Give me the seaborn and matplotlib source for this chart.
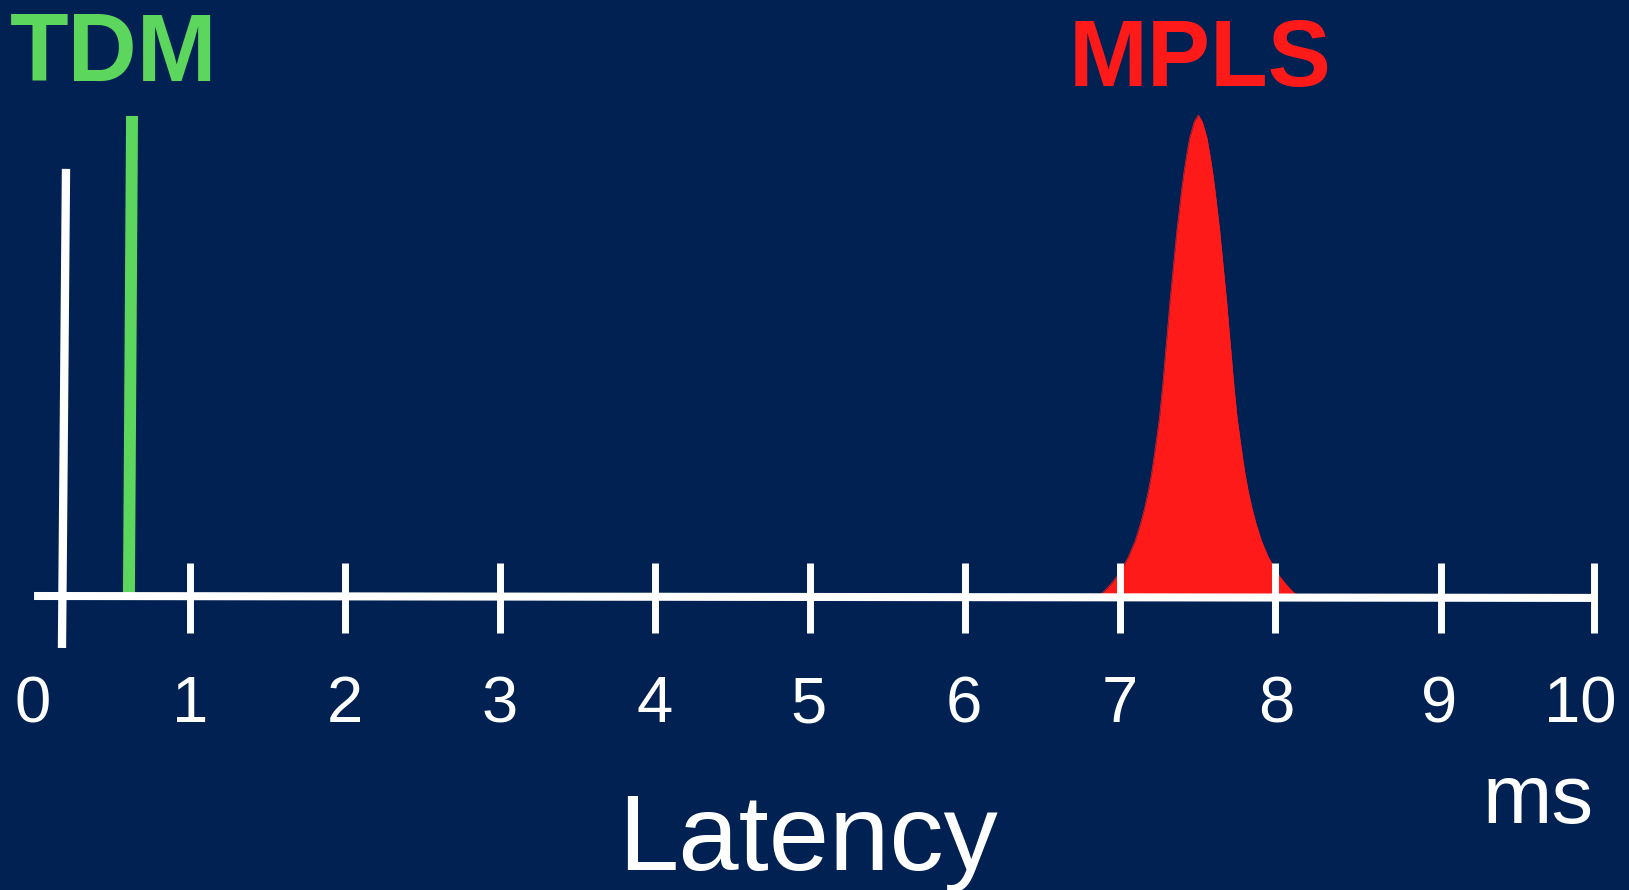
import matplotlib
matplotlib.use("Agg")
import matplotlib.pyplot as plt
import seaborn as sns
import pandas as pd

# ---------------- data ----------------
tick_labels = ["0", "1", "2", "3", "4", "5", "6", "7", "8", "9", "10"]

# MPLS latency distribution (ms, relative height)
mpls_x = [6.860, 6.895, 6.944, 6.994, 7.055, 7.099, 7.133, 7.161, 7.184, 7.204,
          7.220, 7.235, 7.255, 7.277, 7.295, 7.305, 7.323, 7.344, 7.366, 7.386,
          7.399, 7.413, 7.430, 7.449, 7.479, 7.505,
          7.531, 7.561, 7.580, 7.597, 7.611, 7.624, 7.644, 7.666, 7.687, 7.705,
          7.715, 7.733, 7.755, 7.775, 7.790, 7.806, 7.826, 7.849, 7.877, 7.911,
          7.955, 8.016, 8.066, 8.115, 8.150]
mpls_y = [0.0, 0.009, 0.026, 0.047, 0.082, 0.116, 0.151, 0.186, 0.220, 0.255,
          0.290, 0.324, 0.372, 0.443, 0.511, 0.547, 0.615, 0.684, 0.757, 0.813,
          0.848, 0.882, 0.917, 0.952, 0.986, 1.0,
          0.986, 0.952, 0.917, 0.882, 0.848, 0.813, 0.757, 0.684, 0.615, 0.547,
          0.511, 0.443, 0.372, 0.324, 0.290, 0.255, 0.220, 0.186, 0.151, 0.116,
          0.082, 0.047, 0.026, 0.009, 0.0]

# TDM latency (a single fixed value, ms) and its height
tdm_x = [0.606, 0.626]
tdm_y = [0.0, 0.998]

# ---------------- style ----------------
BG = "#002152"
RED = "#FF1A1A"
GREEN = "#5CD65C"
WHITE = "#FFFFFF"

sns.set_theme(style="dark", rc={"axes.facecolor": BG, "figure.facecolor": BG})
plt.rcParams["font.family"] = ["Liberation Sans", "DejaVu Sans"]

W, H = 1629, 890
fig = plt.figure(figsize=(W / 100, H / 100), dpi=100)
fig.patch.set_facecolor(BG)
ax = fig.add_axes([0, 0, 1, 1])
ax.set_facecolor(BG)
ax.axis("off")

# pixel mapping: x_px = 35 + 155*ms ; baseline y_px = 596, 481 px per unit
ax.set_xlim(-35 / 155, (W - 35) / 155)
ax.set_ylim((596 - H) / 481, 596 / 481)

df = pd.DataFrame({"latency": mpls_x, "density": mpls_y})
ax.fill_between(df["latency"], 0, df["density"], color=RED, lw=0, zorder=2)
sns.lineplot(data=df, x="latency", y="density", color=RED, lw=0.5,
             ax=ax, zorder=2, sort=False, estimator=None)

# TDM spike
ax.plot(tdm_x, tdm_y, color=GREEN, lw=8.6, solid_capstyle="butt", zorder=3)

# vertical white axis
ax.plot([0.174, 0.200], [-0.108, 0.888], color=WHITE, lw=6,
        solid_capstyle="butt", zorder=4)

# horizontal axis line
tick_pos = [1, 2, 3, 4, 5, 6, 7, 8, 9.07, 10.06]
ax.plot([-0.006, tick_pos[-1]], [0.0, -0.004], color=WHITE, lw=5.8,
        solid_capstyle="butt", zorder=4)
for p in tick_pos:
    ax.plot([p, p], [-0.077, 0.069], color=WHITE, lw=5.0,
            solid_capstyle="butt", zorder=4)

# tick labels
label_pos = [-0.013, 1.0, 2.0, 3.0, 4.0, 4.99, 5.99, 7.0, 8.01, 9.06, 9.97]
for p, t in zip(label_pos, tick_labels):
    ax.text(p, -0.262, t, color=WHITE, fontsize=47, ha="center",
            va="baseline", zorder=5)

# titles / labels
def fx(px):
    return px / W

def fy(py):
    return 1 - py / H

fig.text(fx(114), fy(81), "TDM", color=GREEN, fontsize=69,
         fontweight="bold", ha="center", va="baseline")
fig.text(fx(1200), fy(86), "MPLS", color=RED, fontsize=68,
         fontweight="bold", ha="center", va="baseline")
fig.text(fx(1538), fy(823), "ms", color=WHITE, fontsize=60,
         ha="center", va="baseline")
fig.text(fx(808), fy(870), "Latency", color=WHITE, fontsize=78,
         ha="center", va="baseline")

fig.savefig("out.png", dpi=100, facecolor=BG)
